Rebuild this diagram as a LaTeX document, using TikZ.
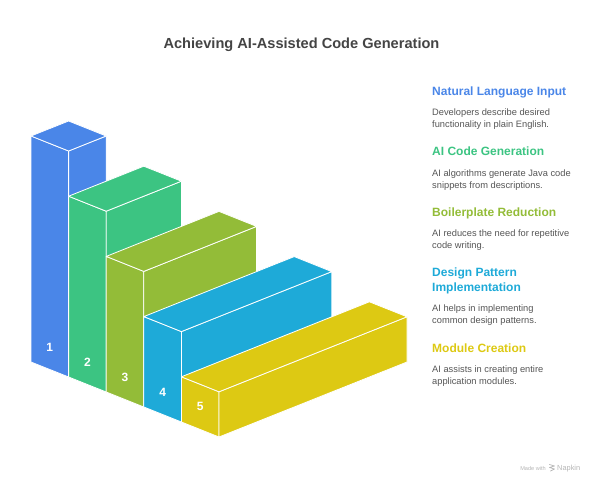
\documentclass[tikz,border=0pt]{standalone}
\usepackage{fontspec}
\setmainfont{Liberation Sans}
\definecolor{cblue}{HTML}{4A86E8}
\definecolor{cgreen}{HTML}{3CC482}
\definecolor{colive}{HTML}{93BC38}
\definecolor{ccyan}{HTML}{1EAAD8}
\definecolor{cyellow}{HTML}{DDC913}
\definecolor{ctitle}{HTML}{444444}
\definecolor{cdesc}{HTML}{555555}
\definecolor{cmark}{HTML}{B5B5B5}
\tikzset{
  face/.style={draw=white, line width=0.8pt, line join=round},
  num/.style={text=white, font=\fontsize{12}{12}\selectfont\bfseries, inner sep=0pt},
  head/.style={anchor=base west, inner sep=0pt, font=\fontsize{12}{15}\selectfont\bfseries},
  desc/.style={anchor=base west, inner sep=0pt, text=cdesc, align=left, font=\fontsize{9.3}{12}\selectfont},
  wmtext/.style={inner sep=0pt, text=cmark, font=\fontsize{5.6}{7}\selectfont},
}
\begin{document}
\begin{tikzpicture}[x=1pt,y=-1pt]
\useasboundingbox (0,0) rectangle (605,484);
\node[anchor=base, font=\fontsize{14.6}{15}\selectfont\bfseries, text=ctitle, inner sep=0pt] (title) at (301.5,48.3) {Achieving AI-Assisted Code Generation};
\begin{scope}[shift={(219pt,-437pt)}, x={(-37.6pt,15pt)}, y={(37.6pt,15pt)}, z={(0pt,45.2pt)}]
\foreach \i/\c in {1/cblue,2/cgreen,3/colive,4/ccyan,5/cyellow}{
  \pgfmathtruncatemacro\ao{5-\i}
  \pgfmathtruncatemacro\ai{6-\i}
  \pgfmathtruncatemacro\H{6-\i}
  \fill[\c, face] (\ai,0,0) -- (\ao,0,0) -- (\ao,0,\H) -- (\ai,0,\H) -- cycle;
  \fill[\c, face] (\ao,0,0) -- (\ao,\i,0) -- (\ao,\i,\H) -- (\ao,0,\H) -- cycle;
  \fill[\c, face] (\ao,0,\H) -- (\ao,\i,\H) -- (\ai,\i,\H) -- (\ai,0,\H) -- cycle;
  \node[num] (n\i) at (\ao+0.5,0,0.5) {\i};
}
\end{scope}
\node[head, text=cblue] (h1) at (432,95.5) {Natural Language Input};
\node[desc] (d1) at (432,127.5) {Developers describe desired\\functionality in plain English.};
\node[head, text=cgreen] (h2) at (432,156) {AI Code Generation};
\node[desc] (d2) at (432,188) {AI algorithms generate Java code\\snippets from descriptions.};
\node[head, text=colive] (h3) at (432,216) {Boilerplate Reduction};
\node[desc] (d3) at (432,248) {AI reduces the need for repetitive\\code writing.};
\node[head, text=ccyan, align=left] (h4) at (432,291.5) {Design Pattern\\Implementation};
\node[desc] (d4) at (432,323.5) {AI helps in implementing\\common design patterns.};
\node[head, text=cyellow] (h5) at (432,352.5) {Module Creation};
\node[desc] (d5) at (432,384) {AI assists in creating entire\\application modules.};
\node[wmtext, anchor=base east] (made) at (546,470.5) {Made with};
\node[wmtext, anchor=base west, font=\fontsize{7.4}{8}\selectfont] (napkin) at (557,470.5) {Napkin};
\draw[cmark, line width=0.7pt, line cap=round, line join=round]
  (549.5,464.5) -- (554.5,466) -- (549.5,467.5) -- (554.5,469) -- (550.5,471);
\end{tikzpicture}
\end{document}
